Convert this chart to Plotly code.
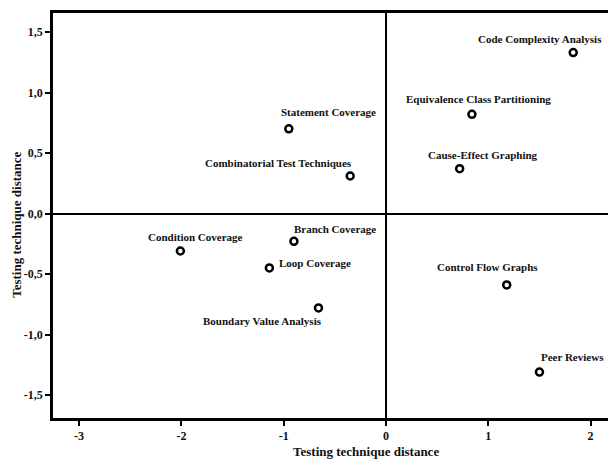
import plotly.graph_objects as go

techniques = [
    "Code Complexity Analysis", "Equivalence Class Partitioning", "Cause-Effect Graphing",
    "Statement Coverage", "Combinatorial Test Techniques", "Condition Coverage",
    "Branch Coverage", "Loop Coverage", "Boundary Value Analysis",
    "Control Flow Graphs", "Peer Reviews",
]
dim1 = [1.83, 0.84, 0.72, -0.95, -0.35, -2.01, -0.90, -1.14, -0.66, 1.18, 1.50]
dim2 = [1.33, 0.82, 0.37, 0.70, 0.31, -0.31, -0.23, -0.45, -0.78, -0.59, -1.31]

x_ticks = [-3, -2, -1, 0, 1, 2]
x_tick_labels = ["-3", "-2", "-1", "0", "1", "2"]
y_ticks = [-1.5, -1.0, -0.5, 0.0, 0.5, 1.0, 1.5]
y_tick_labels = ["-1,5", "-1,0", "-0,5", "0,0", "0,5", "1,0", "1,5"]

# label pixel offsets (styling only)
label_shift = {
    "Code Complexity Analysis": (-33, 14),
    "Equivalence Class Partitioning": (7, 15),
    "Cause-Effect Graphing": (23, 14),
    "Statement Coverage": (40, 17),
    "Combinatorial Test Techniques": (-72, 13),
    "Condition Coverage": (15, 14),
    "Branch Coverage": (41, 12),
    "Loop Coverage": (46, 5),
    "Boundary Value Analysis": (-56, -13),
    "Control Flow Graphs": (-19, 18),
    "Peer Reviews": (33, 15),
}

FONT = "Liberation Serif"

fig = go.Figure()
fig.add_trace(go.Scatter(
    x=dim1, y=dim2, mode="markers",
    marker=dict(symbol="circle", size=7, color="white",
                line=dict(color="black", width=2.5)),
    hoverinfo="text", text=techniques, showlegend=False,
))

annotations = []
for name, xv, yv in zip(techniques, dim1, dim2):
    dx, dy = label_shift[name]
    annotations.append(dict(
        x=xv, y=yv, xref="x", yref="y", text="<b>%s</b>" % name,
        showarrow=False, xshift=dx, yshift=dy,
        font=dict(family=FONT, size=11, color="#111"),
        xanchor="center", yanchor="middle",
    ))

annotations.append(dict(
    x=-0.195, y=0, xref="x", yref="paper", yshift=-33,
    text="<b>Testing technique distance</b>", showarrow=False,
    font=dict(family=FONT, size=13, color="#111"), xanchor="center", yanchor="middle",
))
annotations.append(dict(
    x=0, y=0.477, xref="paper", yref="paper", xshift=-36,
    text="<b>Testing technique distance</b>", showarrow=False, textangle=-90,
    font=dict(family=FONT, size=13, color="#111"), xanchor="center", yanchor="middle",
))

fig.update_layout(
    annotations=annotations,
    width=608, height=459,
    margin=dict(l=53, r=0, t=13, b=41),
    plot_bgcolor="white", paper_bgcolor="white",
    font=dict(family=FONT, color="#111"),
)
fig.update_xaxes(
    range=[-3.255, 2.17], tickvals=x_ticks, ticktext=["<b>%s</b>" % t for t in x_tick_labels],
    showgrid=False, zeroline=True, zerolinecolor="black", zerolinewidth=2,
    showline=True, linecolor="black", linewidth=2.5, mirror=True,
    ticks="outside", ticklen=5, tickwidth=2, tickcolor="black",
    tickfont=dict(family=FONT, size=12, color="#111"),
)
fig.update_yaxes(
    range=[-1.69, 1.657], tickvals=y_ticks, ticktext=["<b>%s</b>" % t for t in y_tick_labels],
    showgrid=False, zeroline=True, zerolinecolor="black", zerolinewidth=2,
    showline=True, linecolor="black", linewidth=2.5, mirror=False,
    ticks="outside", ticklen=5, tickwidth=2, tickcolor="black",
    tickfont=dict(family=FONT, size=12, color="#111"),
)

fig.write_html(
    "out.html",
    config={"displayModeBar": False},
    post_script="document.body.style.margin='0';document.body.style.overflow='hidden';",
)
